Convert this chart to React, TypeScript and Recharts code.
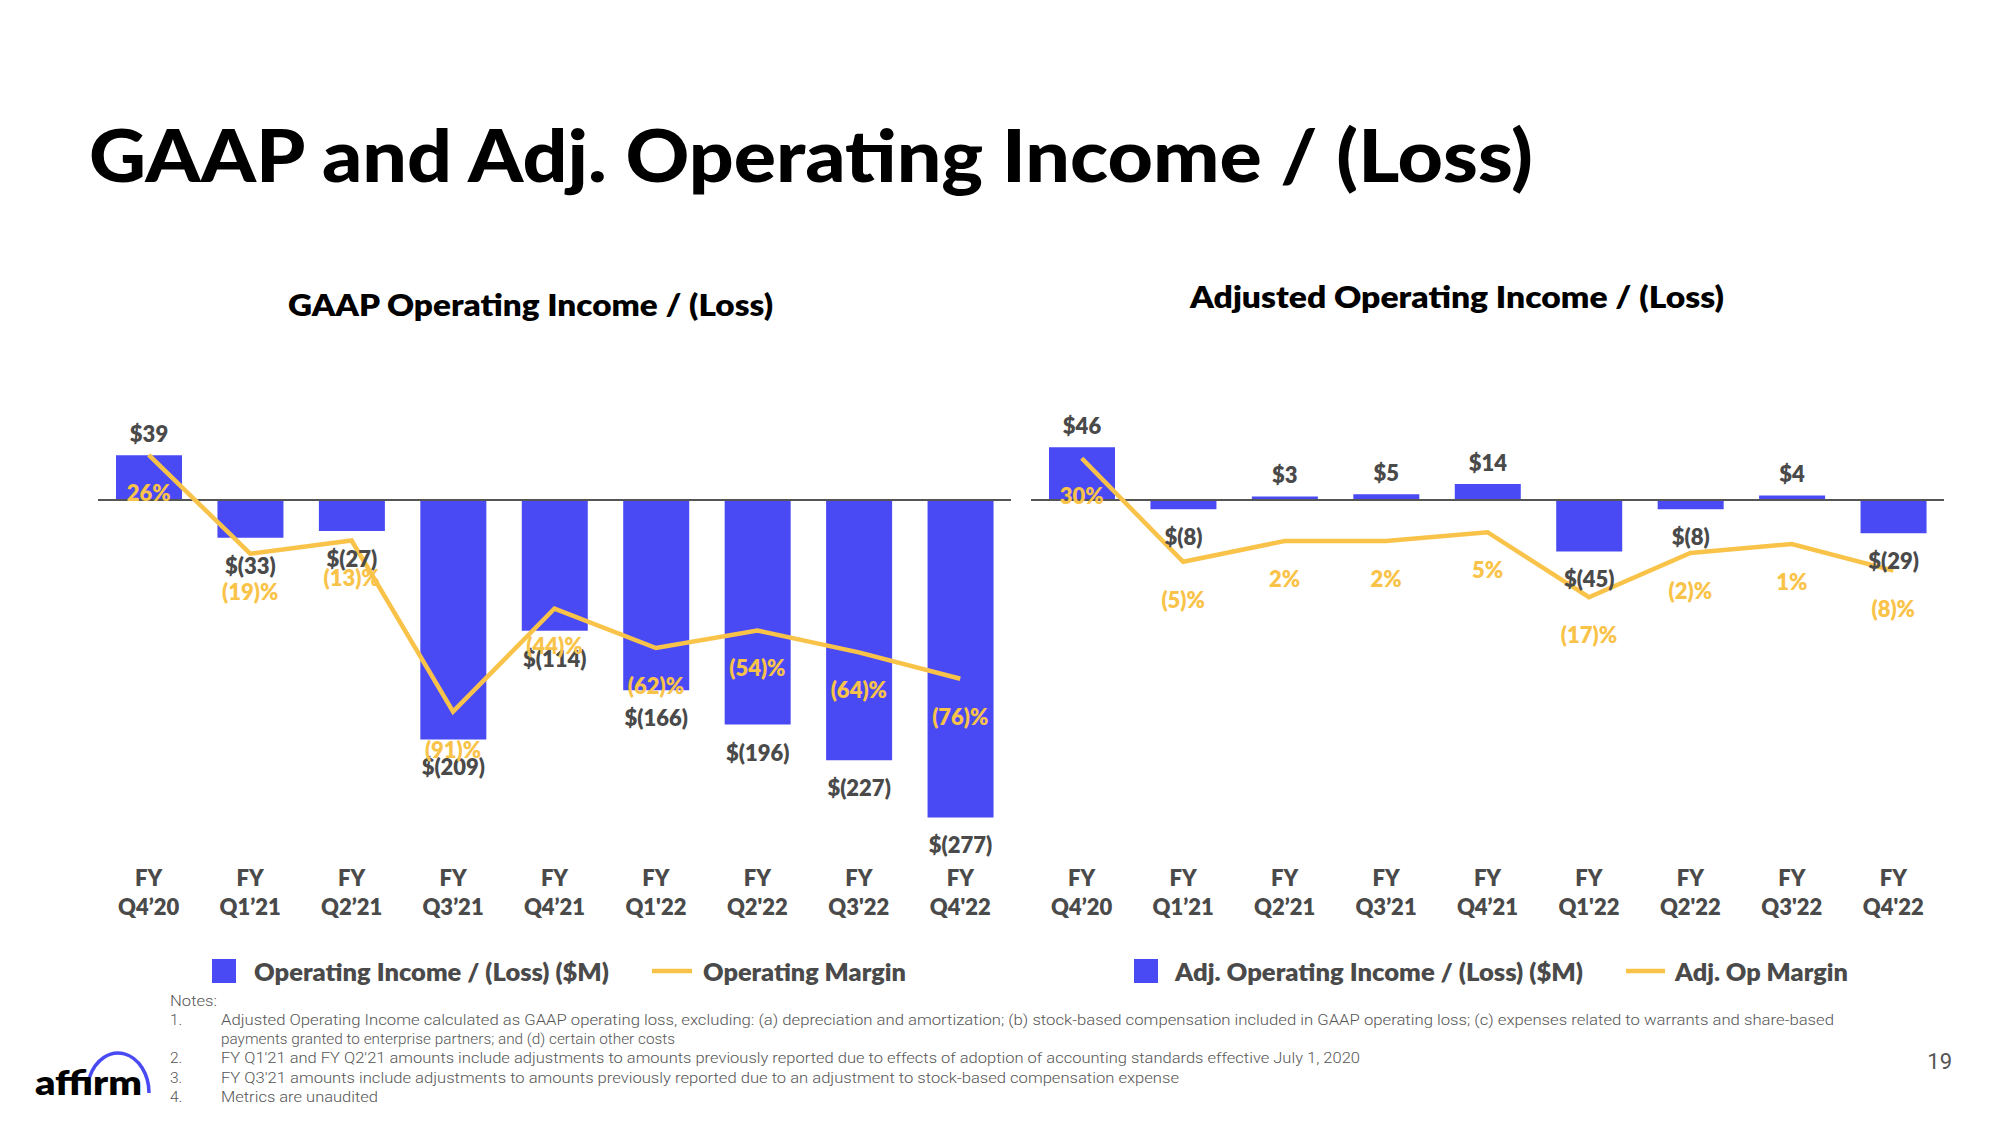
import React from 'react';
import { ComposedChart, Bar, Line, XAxis, YAxis, ReferenceLine, LabelList } from 'recharts';

// ---------- data ----------
const quarters = ['Q4’20', 'Q1’21', 'Q2’21', 'Q3’21', 'Q4’21', "Q1'22", "Q2'22", "Q3'22", "Q4'22"];
const fyPrefix = 'FY';
const gaapIncome = [39, -33, -27, -209, -114, -166, -196, -227, -277];
const gaapMargin = [26, -19, -13, -91, -44, -62, -54, -64, -76];
const adjIncome = [46, -8, 3, 5, 14, -45, -8, 4, -29];
const adjMargin = [30, -5, 2, 2, 5, -17, -2, 1, -8];

const titleText = 'GAAP and Adj. Operating Income / (Loss)';
const leftTitle = 'GAAP Operating Income / (Loss)';
const rightTitle = 'Adjusted Operating Income / (Loss)';
const leftLegend = ['Operating Income / (Loss) ($M)', 'Operating Margin'];
const rightLegend = ['Adj. Operating Income / (Loss) ($M)', 'Adj. Op Margin'];
const notesHeader = 'Notes:';
const notes = [
  'Adjusted Operating Income calculated as GAAP operating loss, excluding: (a) depreciation and amortization; (b) stock-based compensation included in GAAP operating loss; (c) expenses related to warrants and share-based',
  'payments granted to enterprise partners; and (d) certain other costs',
  "FY Q1'21 and FY Q2'21 amounts include adjustments to amounts previously reported due to effects of adoption of accounting standards effective July 1, 2020",
  "FY Q3'21 amounts include adjustments to amounts previously reported due to an adjustment to stock-based compensation expense",
  'Metrics are unaudited',
];
const noteNumbers = ['1.', '', '2.', '3.', '4.'];

// ---------- style / layout ----------
const BLUE = '#4A4AF4';
const YELLOW = '#F9C34A';
const GRAY = '#4A4A4A';
const FONT = 'Lato, "Open Sans", sans-serif';
const NOTE_FONT = 'Roboto, "Noto Sans", sans-serif';

const PLOT_TOP = 380;
const PLOT_BOTTOM = 860;
const ZERO_Y = 500;
const PX_PER_M = 1.146;
const CHART_W = 913;
const XAXIS_H = 70;
const LABEL_FS = 22;
const LABEL_WEIGHT = 800;

const fmtMoney = (v: number) => (v >= 0 ? `$${v}` : `$(${-v})`);
const fmtPct = (v: number) => (v >= 0 ? `${v}%` : `(${-v})%`);

const QuarterTick = (props: any) => {
  const { x, y, payload } = props;
  return (
    <g>
      <text x={x} y={y + 25.5} textAnchor="middle" fontFamily={FONT} fontWeight={LABEL_WEIGHT} fontSize={22} fill={GRAY}>
        {fyPrefix}
      </text>
      <text x={x} y={y + 55} textAnchor="middle" fontFamily={FONT} fontWeight={LABEL_WEIGHT} fontSize={22} fill={GRAY}>
        {payload.value}
      </text>
    </g>
  );
};

const makeMoneyLabel = (values: number[]) => (props: any) => {
  const vb = props.viewBox || {};
  const x = props.x ?? vb.x;
  const y = props.y ?? vb.y;
  const width = props.width ?? vb.width ?? 0;
  const height = props.height ?? vb.height ?? 0;
  const v = values[props.index];
  const top = Math.min(y, y + height);
  const bottom = Math.max(y, y + height);
  const cy = v >= 0 ? top - 21 : bottom + 28;
  return (
    <text x={x + width / 2} y={cy + 0.36 * LABEL_FS} textAnchor="middle" fontFamily={FONT} fontWeight={LABEL_WEIGHT} fontSize={LABEL_FS} fill={GRAY}>
      {fmtMoney(v)}
    </text>
  );
};

const makePctLabel = (values: number[]) => (props: any) => {
  const vb = props.viewBox || {};
  const x = props.x ?? vb.x;
  const y = props.y ?? vb.y;
  const v = values[props.index];
  return (
    <text x={x} y={y + 38 + 0.36 * LABEL_FS} textAnchor="middle" fontFamily={FONT} fontWeight={LABEL_WEIGHT} fontSize={LABEL_FS} fill={YELLOW}>
      {fmtPct(v)}
    </text>
  );
};

type PanelProps = { left: number; income: number[]; margin: number[]; pctZero: number; pctScale: number };

function Panel({ left, income, margin, pctZero, pctScale }: PanelProps) {
  const data = quarters.map((q, i) => ({ q, income: income[i], margin: margin[i] }));
  const h = PLOT_BOTTOM - PLOT_TOP;
  const mDomain = [-(PLOT_BOTTOM - ZERO_Y) / PX_PER_M, (ZERO_Y - PLOT_TOP) / PX_PER_M];
  const pDomain = [-(PLOT_BOTTOM - pctZero) / pctScale, (pctZero - PLOT_TOP) / pctScale];
  return (
    <div style={{ position: 'absolute', left, top: PLOT_TOP, width: CHART_W, height: h + XAXIS_H }}>
      <ComposedChart width={CHART_W} height={h + XAXIS_H} data={data} margin={{ top: 0, right: 0, bottom: 0, left: 0 }} style={{ overflow: 'visible' }}>
        <XAxis
          dataKey="q"
          interval={0}
          axisLine={false}
          tickLine={false}
          tickSize={0}
          tickMargin={0}
          height={XAXIS_H}
          tick={(p: any) => <QuarterTick {...p} />}
        />
        <YAxis yAxisId="m" type="number" domain={mDomain} allowDataOverflow hide />
        <YAxis yAxisId="p" type="number" domain={pDomain} allowDataOverflow hide />
        <Bar yAxisId="m" dataKey="income" fill={BLUE} barSize={66} isAnimationActive={false}>
          <LabelList dataKey="income" content={makeMoneyLabel(income)} />
        </Bar>
        <ReferenceLine yAxisId="m" y={0} stroke="#555555" strokeWidth={2} />
        <Line
          yAxisId="p"
          dataKey="margin"
          type="linear"
          stroke={YELLOW}
          strokeWidth={4.5}
          dot={false}
          activeDot={false}
          isAnimationActive={false}
        >
          <LabelList dataKey="margin" content={makePctLabel(margin)} />
        </Line>
      </ComposedChart>
    </div>
  );
}

const noteYs = [1019, 1038, 1057, 1077, 1096];

export default function App() {
  return (
    <div style={{ position: 'absolute', left: 0, top: 0, width: 2000, height: 1125, background: '#fff', overflow: 'hidden' }}>
      <svg width={2000} height={1125} style={{ position: 'absolute', left: 0, top: 0 }}>
        <text x={89} y={182} fontFamily={FONT} fontWeight={900} fontSize={72} fill="#000" textLength={1444} lengthAdjust="spacingAndGlyphs">
          {titleText}
        </text>
        <text x={288} y={316} fontFamily={FONT} fontWeight={800} fontSize={30} fill="#000" textLength={485} lengthAdjust="spacingAndGlyphs">
          {leftTitle}
        </text>
        <text x={1190} y={308} fontFamily={FONT} fontWeight={800} fontSize={30} fill="#000" textLength={534} lengthAdjust="spacingAndGlyphs">
          {rightTitle}
        </text>

        {/* legends */}
        <rect x={212} y={959} width={24} height={24} fill={BLUE} />
        <text x={254} y={980.5} fontFamily={FONT} fontWeight={LABEL_WEIGHT} fontSize={24} fill={GRAY} textLength={355} lengthAdjust="spacingAndGlyphs">
          {leftLegend[0]}
        </text>
        <line x1={652} x2={692} y1={971} y2={971} stroke={YELLOW} strokeWidth={4.5} />
        <text x={703} y={980.5} fontFamily={FONT} fontWeight={LABEL_WEIGHT} fontSize={24} fill={GRAY} textLength={203} lengthAdjust="spacingAndGlyphs">
          {leftLegend[1]}
        </text>
        <rect x={1134} y={959} width={24} height={24} fill={BLUE} />
        <text x={1175} y={980.5} fontFamily={FONT} fontWeight={LABEL_WEIGHT} fontSize={24} fill={GRAY} textLength={408} lengthAdjust="spacingAndGlyphs">
          {rightLegend[0]}
        </text>
        <line x1={1626} x2={1665} y1={971} y2={971} stroke={YELLOW} strokeWidth={4.5} />
        <text x={1675} y={980.5} fontFamily={FONT} fontWeight={LABEL_WEIGHT} fontSize={24} fill={GRAY} textLength={173} lengthAdjust="spacingAndGlyphs">
          {rightLegend[1]}
        </text>

        {/* notes */}
        <text x={170} y={1005.5} fontFamily={NOTE_FONT} fontWeight={300} fontSize={15.5} fill="#555" textLength={47} lengthAdjust="spacingAndGlyphs">
          {notesHeader}
        </text>
        {notes.map((n, i) => (
          <g key={i}>
            {noteNumbers[i] && (
              <text x={170} y={noteYs[i] + 5.5} fontFamily={NOTE_FONT} fontWeight={300} fontSize={15.5} fill="#555">
                {noteNumbers[i]}
              </text>
            )}
            <text
              x={221}
              y={noteYs[i] + 5.5}
              fontFamily={NOTE_FONT}
              fontWeight={300}
              fontSize={15.5}
              fill="#555"
              textLength={[1613, 454, 1139, 958, 157][i]}
              lengthAdjust="spacingAndGlyphs"
            >
              {n}
            </text>
          </g>
        ))}

        {/* page number */}
        <text x={1952} y={1069} textAnchor="end" fontFamily={NOTE_FONT} fontWeight={400} fontSize={22} fill="#555">
          19
        </text>

        {/* logo */}
        <text x={35} y={1095} fontFamily={FONT} fontWeight={800} fontSize={34} fill="#000" textLength={107} lengthAdjust="spacingAndGlyphs">
          affirm
        </text>
        <path d="M 89.6 1077 A 31 40 0 0 1 149 1093" fill="none" stroke={BLUE} strokeWidth={3.5} />
      </svg>

      <Panel left={98} income={gaapIncome} margin={gaapMargin} pctZero={512} pctScale={2.194} />
      <Panel left={1031} income={adjIncome} margin={adjMargin} pctZero={547} pctScale={2.957} />
    </div>
  );
}
